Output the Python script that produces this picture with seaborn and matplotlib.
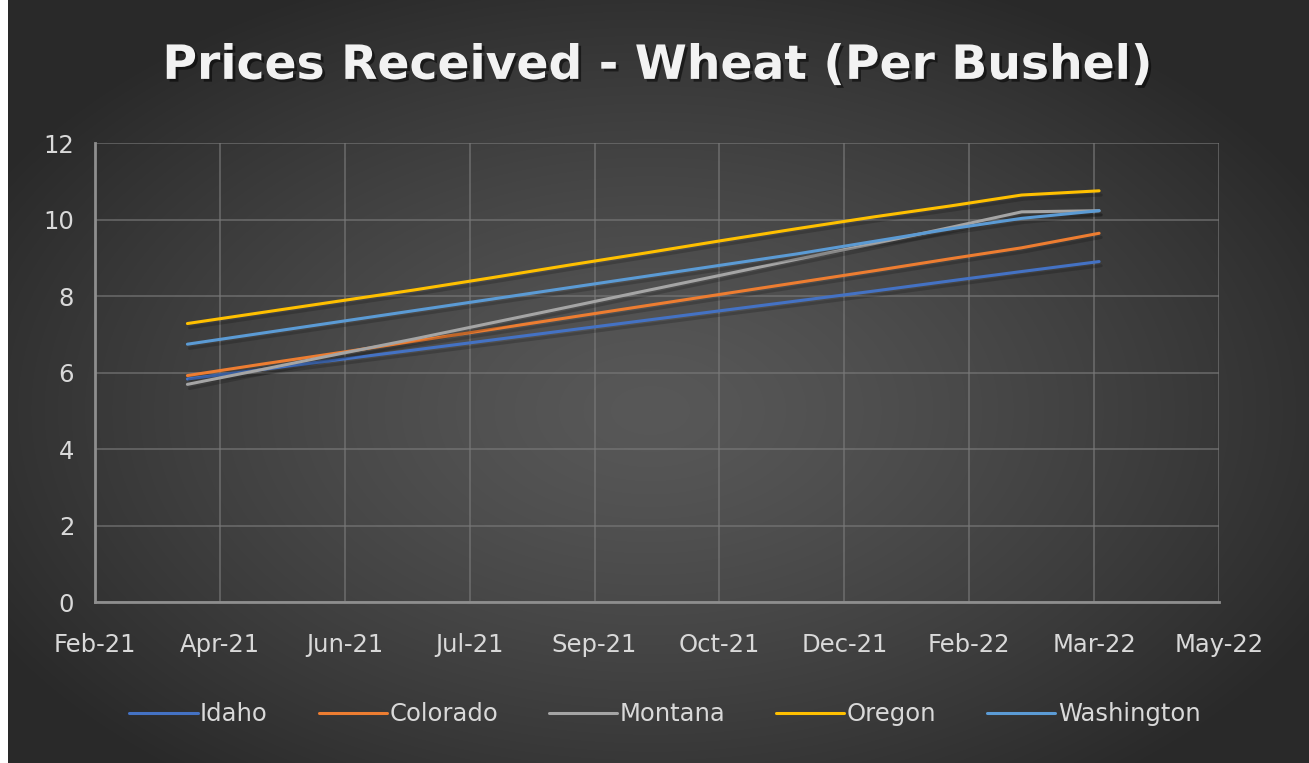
import matplotlib
matplotlib.use("Agg")
import matplotlib.pyplot as plt
import matplotlib.patheffects as pe
import seaborn as sns
import pandas as pd
import numpy as np

# month-end dates, values
dates = pd.date_range("2021-03-31", "2022-03-31", freq="ME")
idaho = [5.83, 6.08, 6.34, 6.59, 6.85, 7.11, 7.36, 7.62, 7.87, 8.13, 8.40, 8.64, 8.90]
colorado = [5.92, 6.22, 6.52, 6.82, 7.13, 7.44, 7.74, 8.05, 8.35, 8.66, 8.98, 9.26, 9.64]
montana = [5.69, 6.08, 6.49, 6.88, 7.30, 7.72, 8.13, 8.55, 8.96, 9.37, 9.80, 10.20, 10.23]
oregon = [7.28, 7.57, 7.87, 8.16, 8.48, 8.81, 9.12, 9.45, 9.76, 10.07, 10.36, 10.64, 10.75]
washington = [6.74, 7.03, 7.33, 7.62, 7.92, 8.22, 8.51, 8.81, 9.10, 9.43, 9.76, 10.03, 10.23]

states = ["Idaho", "Colorado", "Montana", "Oregon", "Washington"]
colors = ["#4472C4", "#ED7D31", "#A5A5A5", "#FFC000", "#5B9BD5"]
tick_labels = ["Feb-21", "Apr-21", "Jun-21", "Jul-21", "Sep-21",
               "Oct-21", "Dec-21", "Feb-22", "Mar-22", "May-22"]

df = pd.DataFrame({"Date": dates, "Idaho": idaho, "Colorado": colorado,
                   "Montana": montana, "Oregon": oregon, "Washington": washington})
long_df = df.melt(id_vars="Date", var_name="State", value_name="Price")

sns.set_style("dark")
plt.rcParams["font.family"] = ["DejaVu Sans"]

fig = plt.figure(figsize=(13.09, 7.63), dpi=100)

# radial gradient background
bg = fig.add_axes([0, 0, 1, 1], zorder=-10)
h, w = 763, 1309
yy, xx = np.mgrid[0:h, 0:w]
r = np.sqrt(((xx - 650) / 760.0) ** 2 + ((yy - 410) / 470.0) ** 2)
r = np.clip(r, 0, 1)
shade = (0x58 + (0x29 - 0x58) * r ** 1.3) / 255.0
img = np.dstack([shade, shade, shade])
img[:, :8] = 1.0
bg.imshow(img, aspect="auto", extent=[0, 1, 0, 1], interpolation="bilinear")
bg.set_axis_off()

ax = fig.add_axes([95 / 1309, 1 - 602 / 763, (1219 - 95) / 1309, (602 - 143) / 763])
ax.set_facecolor("none")

sns.lineplot(data=long_df, x="Date", y="Price", hue="State", hue_order=states,
             palette=colors, linewidth=2.2, ax=ax, legend=False)
for line in ax.get_lines():
    line.set_path_effects([pe.SimpleLineShadow(offset=(1.5, -3), alpha=0.18, shadow_color="black"),
                           pe.Normal()])

start = pd.Timestamp("2021-02-22")
ticks = [start + pd.Timedelta(days=50 * i) for i in range(len(tick_labels))]
ax.set_xlim(ticks[0], ticks[-1])
ax.set_xticks(ticks)
ax.set_xticklabels(tick_labels)
ax.set_ylim(0, 12)
ax.set_yticks(range(0, 13, 2))

ax.grid(True, color="#7a7a7a", linewidth=1.2, alpha=0.7)
for s in ["top", "right"]:
    ax.spines[s].set_visible(False)
for s in ["left", "bottom"]:
    ax.spines[s].set_visible(True)
    ax.spines[s].set_color("#8e8e8e")
    ax.spines[s].set_linewidth(2)
ax.tick_params(axis="both", colors="#d9d9d9", labelsize=17.5, length=0)
ax.tick_params(axis="x", pad=22)
ax.tick_params(axis="y", pad=15)
ax.set_xlabel("")
ax.set_ylabel("")

fig.text(0.503, 0.913, "Prices Received - Wheat (Per Bushel)", ha="center", va="center",
         fontsize=34, fontweight="bold", color="#f2f2f2",
         path_effects=[pe.withSimplePatchShadow(offset=(2, -2), shadow_rgbFace="black", alpha=0.5)])

handles = [plt.Line2D([], [], color=c, linewidth=2.2) for c in colors]
fig.legend(handles, states, loc="center", bbox_to_anchor=(0.508, 0.064), ncol=5,
           frameon=False, fontsize=17.5, labelcolor="#d9d9d9", handlelength=2.8,
           handletextpad=0.1, columnspacing=2.1)

fig.savefig("out.png", dpi=100)
